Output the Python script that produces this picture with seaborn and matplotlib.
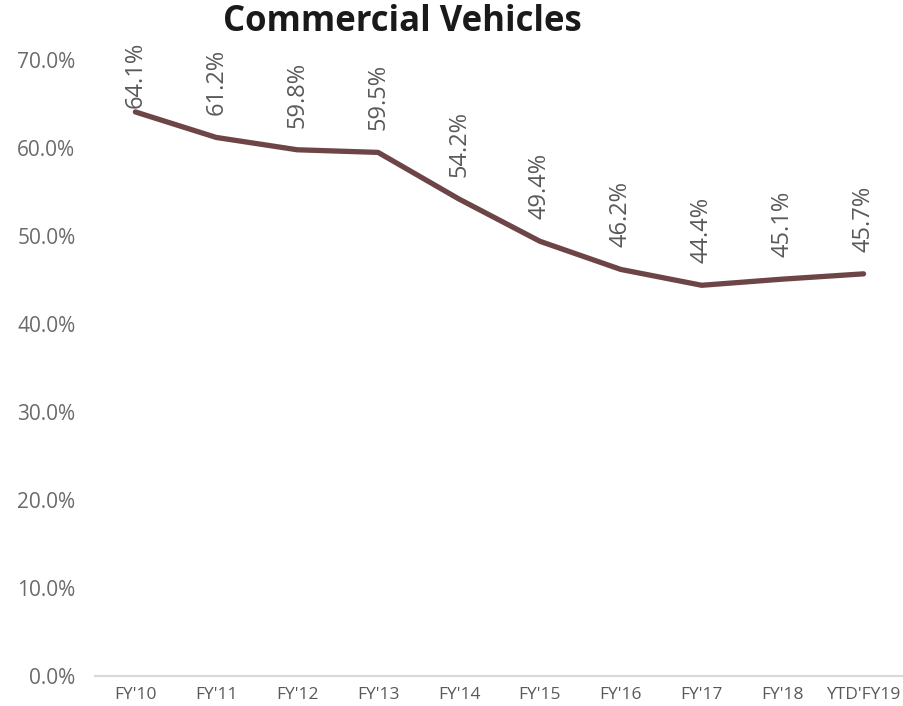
import matplotlib
matplotlib.use("Agg")
import matplotlib.pyplot as plt
import seaborn as sns
import pandas as pd
from matplotlib.ticker import FuncFormatter

categories = ["FY'10", "FY'11", "FY'12", "FY'13", "FY'14", "FY'15", "FY'16", "FY'17", "FY'18", "YTD'FY19"]
values = [64.1, 61.2, 59.8, 59.5, 54.2, 49.4, 46.2, 44.4, 45.1, 45.7]
title = "Commercial Vehicles"

sns.set_style("white")
plt.rcParams['font.family'] = ['Open Sans', 'DejaVu Sans']

df = pd.DataFrame({"cat": categories, "val": values, "x": range(len(categories))})

fig = plt.figure(figsize=(9.04, 7.06), dpi=100)
ax = fig.add_axes([0.105, 0.0425, 0.895, 0.8725])

sns.lineplot(data=df, x="x", y="val", ax=ax, color="#6E4546", linewidth=3.8,
             solid_capstyle="round", solid_joinstyle="round")

ax.set_xlim(-0.5, len(categories) - 0.5)
ax.set_ylim(0, 70)
ax.set_yticks(range(0, 71, 10))
ax.yaxis.set_major_formatter(FuncFormatter(lambda v, p: f"{v:.1f}%"))
ax.set_xticks(range(len(categories)))
ax.set_xticklabels(categories)
ax.tick_params(axis="y", labelsize=15, colors="#6B6B6B", length=0, pad=14)
ax.tick_params(axis="x", labelsize=12.5, colors="#595959", length=0, pad=8)
ax.set_xlabel("")
ax.set_ylabel("")

for s in ["top", "right", "left"]:
    ax.spines[s].set_visible(False)
ax.spines["bottom"].set_color("#D9D9D9")
ax.spines["bottom"].set_linewidth(1.5)

for i, v in enumerate(values):
    off = 3 if i == 0 else 16
    ax.annotate(f"{v:.1f}%", (i, v), xytext=(0, off), textcoords="offset points",
                rotation=90, ha="center", va="bottom", fontsize=17, color="#595959")

fig.text(0.445, 0.995, title, ha="center", va="top", fontsize=25, fontweight="bold", color="#1a1a1a")

fig.savefig("out.png", dpi=100)
